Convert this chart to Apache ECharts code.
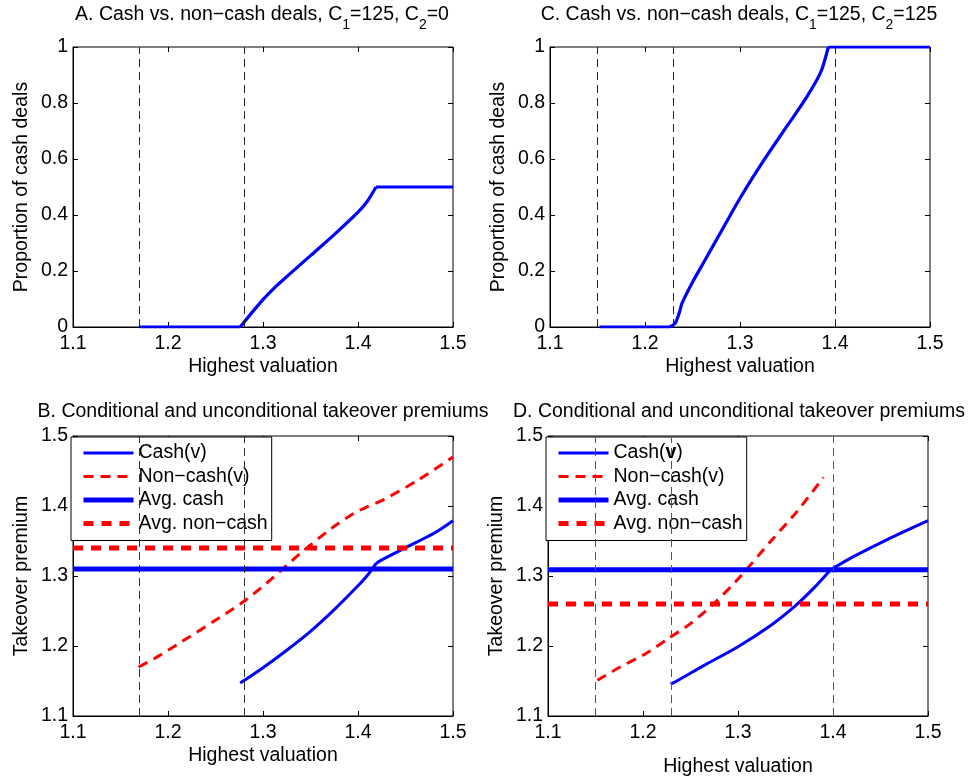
<!DOCTYPE html>
<html>
<head>
<meta charset="utf-8">
<script src="https://cdn.jsdelivr.net/npm/echarts@6/dist/echarts.min.js"></script>
<style>
html,body{margin:0;padding:0;background:#fff;}
#c{width:974px;height:781px;}
</style>
</head>
<body>
<div id="c"></div>
<script>
// ---------------- data ----------------
const xTickValues = [1.1, 1.2, 1.3, 1.4, 1.5];

// Panel A: proportion of cash deals (C1=125, C2=0)
const thresholdsA = [1.17, 1.276];
const propA_x = [1.17, 1.276, 1.285, 1.30, 1.312, 1.325, 1.35, 1.375, 1.40, 1.41, 1.419, 1.5];
const propA_y = [0, 0, 0.038, 0.098, 0.14, 0.18, 0.255, 0.33, 0.41, 0.45, 0.5, 0.5];

// Panel C: proportion of cash deals (C1=125, C2=125)
const thresholdsC = [1.152, 1.226, 1.395];
const propC_x = [1.152, 1.226, 1.232, 1.236, 1.239, 1.25, 1.265, 1.28, 1.30, 1.325, 1.35, 1.37, 1.385, 1.393, 1.5];
const propC_y = [0, 0, 0.015, 0.05, 0.085, 0.16, 0.25, 0.34, 0.46, 0.595, 0.72, 0.82, 0.91, 1.0, 1.0];

// Panel B: takeover premiums (C2=0)
const thresholdsB = [1.17, 1.276];
const cashB_x = [1.276, 1.30, 1.325, 1.35, 1.375, 1.40, 1.41, 1.419, 1.425, 1.445, 1.48, 1.5];
const cashB_y = [1.147, 1.169, 1.194, 1.221, 1.252, 1.286, 1.301, 1.318, 1.323, 1.337, 1.361, 1.379];
const nonCashB_x = [1.169, 1.192, 1.276, 1.304, 1.339, 1.372, 1.395, 1.41, 1.427, 1.462, 1.5];
const nonCashB_y = [1.17, 1.187, 1.26, 1.29, 1.332, 1.368, 1.389, 1.399, 1.409, 1.436, 1.47];
const avgB_x = [1.1, 1.5];
const avgCashB = 1.31;
const avgNonCashB = 1.34;

// Panel D: takeover premiums (C2=125)
const thresholdsD = [1.152, 1.226, 1.397];
const cashD_x = [1.229, 1.233, 1.264, 1.30, 1.334, 1.36, 1.38, 1.3975, 1.422, 1.457, 1.5];
const cashD_y = [1.146, 1.148, 1.172, 1.199, 1.229, 1.257, 1.283, 1.309, 1.328, 1.352, 1.379];
const nonCashD_x = [1.152, 1.176, 1.204, 1.227, 1.25, 1.275, 1.303, 1.334, 1.362, 1.39];
const nonCashD_y = [1.151, 1.17, 1.19, 1.211, 1.232, 1.261, 1.30, 1.349, 1.392, 1.441];
const avgD_x = [1.1, 1.5];
const avgCashD = 1.309;
const avgNonCashD = 1.26;

const legendNames = ['Cash(v)', 'Non\u2212cash(v)', 'Avg. cash', 'Avg. non\u2212cash'];

// ---------------- helpers ----------------
const FONT = '"Liberation Sans", Arial, Helvetica, sans-serif';
const FS = 19.5;
const BLUE = '#0000ff';
const RED = '#ff0000';
const SM = 0.25;
const zip = (xs, ys) => xs.map((x, i) => [x, ys[i]]);
const flat = (xs, v) => xs.map(x => [x, v]);

const grids = [
  {left: 73,  top: 47,  width: 380, height: 280},  // A
  {left: 550, top: 47,  width: 380, height: 280},  // C
  {left: 73,  top: 436, width: 380, height: 280},  // B
  {left: 548, top: 436, width: 380, height: 280}   // D
].map(g => Object.assign({show: true, borderColor: '#000', borderWidth: 1, backgroundColor: 'transparent'}, g));

function xBottom(i, gap) {
  return {
    type: 'value', gridIndex: i, position: 'bottom', min: 1.1, max: 1.5, interval: 0.1,
    name: 'Highest valuation', nameLocation: 'middle', nameGap: gap,
    nameTextStyle: {fontSize: FS, color: '#000', fontFamily: FONT},
    axisLine: {show: true, onZero: false, lineStyle: {color: '#000', width: 1}},
    axisTick: {show: true, inside: true, length: 5, lineStyle: {color: '#000', width: 1}},
    axisLabel: {show: true, fontSize: FS, color: '#000', fontFamily: FONT, margin: 7,
                showMinLabel: true, showMaxLabel: true},
    splitLine: {show: false}
  };
}
function xTop(i) {
  return {
    type: 'value', gridIndex: i, position: 'top', min: 1.1, max: 1.5, interval: 0.1,
    axisLine: {show: false, onZero: false},
    axisTick: {show: true, inside: true, length: 5, lineStyle: {color: '#000', width: 1}},
    axisLabel: {show: false}, splitLine: {show: false}
  };
}
function yLeft(i, min, max, interval, name) {
  return {
    type: 'value', gridIndex: i, position: 'left', min, max, interval,
    name, nameLocation: 'middle', nameGap: 41,
    nameTextStyle: {fontSize: FS, color: '#000', fontFamily: FONT},
    axisLine: {show: true, onZero: false, lineStyle: {color: '#000', width: 1}},
    axisTick: {show: true, inside: true, length: 5, lineStyle: {color: '#000', width: 1}},
    axisLabel: {show: true, fontSize: FS, color: '#000', fontFamily: FONT, margin: 5,
                showMinLabel: true, showMaxLabel: true},
    splitLine: {show: false}
  };
}
function yRight(i, min, max, interval) {
  return {
    type: 'value', gridIndex: i, position: 'right', min, max, interval,
    axisLine: {show: false, onZero: false},
    axisTick: {show: true, inside: true, length: 5, lineStyle: {color: '#000', width: 1}},
    axisLabel: {show: false}, splitLine: {show: false}
  };
}
function vlines(i, values, color) {
  return {
    type: 'line', xAxisIndex: i, yAxisIndex: i, data: [], z: 2, silent: true,
    markLine: {
      silent: true, symbol: ['none', 'none'], label: {show: false},
      lineStyle: {color: color, type: [8, 5], width: 1},
      emphasis: {disabled: true},
      data: values.map(v => ({xAxis: v}))
    }
  };
}
function curve(i, data, color, width, dash, name, smooth) {
  const s = {
    type: 'line', xAxisIndex: i, yAxisIndex: i, data, symbol: 'none', z: 3, silent: true,
    smooth: smooth || false,
    lineStyle: {color, width, type: dash || 'solid', cap: 'butt', join: 'round'}, itemStyle: {color},
    emphasis: {disabled: true}
  };
  if (name) s.name = name;
  return s;
}

const legendItemStyles = [
  {lineStyle: {color: BLUE, width: 3, type: 'solid'}},
  {lineStyle: {color: RED, width: 3, type: [10, 7]}},
  {lineStyle: {color: BLUE, width: 5, type: 'solid'}},
  {lineStyle: {color: RED, width: 5, type: [10, 8]}}
];
function legend(left, top, boldV) {
  return {
    orient: 'vertical', left, top, z: 1, selectedMode: false,
    itemWidth: 50, itemHeight: 14, itemGap: 3.5,
    padding: [6, 4, 7, 10],
    borderColor: '#000', borderWidth: 1, backgroundColor: '#fff',
    textStyle: {fontSize: FS, color: '#000', fontFamily: FONT,
      rich: {n: {fontSize: FS, fontFamily: FONT, color: '#000'},
             b: {fontSize: FS, fontFamily: FONT, color: '#000', fontWeight: 'bold'}}},
    formatter: boldV ? (n => n === legendNames[0] ? '{n|Cash(}{b|v}{n|)}' : n) : null,
    data: legendNames.map((n, k) => Object.assign({name: n, itemStyle: {opacity: 0}}, legendItemStyles[k]))
  };
}

const titleRich = {
  n: {fontSize: FS, fontFamily: FONT, fill: '#000', lineHeight: 22, verticalAlign: 'top'},
  s: {fontSize: 14, fontFamily: FONT, fill: '#000', padding: [13, 0, 0, 0], verticalAlign: 'top'}
};
function titleText(x, y, text) {
  return {type: 'text', x, y, silent: true,
          style: {text, rich: titleRich, align: 'center', verticalAlign: 'top', fill: '#000',
                  fontSize: FS, fontFamily: FONT}};
}

const A = zip(propA_x, propA_y);
const C = zip(propC_x, propC_y);
const cB = zip(cashB_x, cashB_y);
const cD = zip(cashD_x, cashD_y);

const option = {
  animation: false,
  backgroundColor: '#fff',
  grid: grids,
  graphic: [
    titleText(262, 5, '{n|A. Cash vs. non\u2212cash deals, C}{s|1}{n|=125, C}{s|2}{n|=0}'),
    titleText(739, 5, '{n|C. Cash vs. non\u2212cash deals, C}{s|1}{n|=125, C}{s|2}{n|=125}'),
    titleText(263, 402, '{n|B. Conditional and unconditional takeover premiums}'),
    titleText(739, 402, '{n|D. Conditional and unconditional takeover premiums}')
  ],
  legend: [legend(71, 437, false), legend(546, 437, true)],
  xAxis: [xBottom(0, 30), xBottom(1, 30), xBottom(2, 30), xBottom(3, 41),
          xTop(0), xTop(1), xTop(2), xTop(3)],
  yAxis: [yLeft(0, 0, 1, 0.2, 'Proportion of cash deals'),
          yLeft(1, 0, 1, 0.2, 'Proportion of cash deals'),
          yLeft(2, 1.1, 1.5, 0.1, 'Takeover premium'),
          yLeft(3, 1.1, 1.5, 0.1, 'Takeover premium'),
          yRight(0, 0, 1, 0.2), yRight(1, 0, 1, 0.2),
          yRight(2, 1.1, 1.5, 0.1), yRight(3, 1.1, 1.5, 0.1)],
  series: [
    vlines(0, thresholdsA, '#222'),
    curve(0, A.slice(0, 2), BLUE, 3.2),
    curve(0, A.slice(1, 11), BLUE, 3.2, null, null, SM),
    curve(0, A.slice(10), BLUE, 3.2),
    vlines(1, thresholdsC, '#222'),
    curve(1, C.slice(0, 2), BLUE, 3.2),
    curve(1, C.slice(1, 14), BLUE, 3.2, null, null, SM),
    curve(1, C.slice(13), BLUE, 3.2),
    vlines(2, thresholdsB, '#333'),
    curve(2, cB.slice(0, 8), BLUE, 3, null, legendNames[0], SM),
    curve(2, cB.slice(7), BLUE, 3, null, legendNames[0], SM),
    curve(2, zip(nonCashB_x, nonCashB_y), RED, 3, [10, 7], legendNames[1], SM),
    curve(2, flat(avgB_x, avgCashB), BLUE, 5, null, legendNames[2]),
    curve(2, flat(avgB_x, avgNonCashB), RED, 5, [10, 8], legendNames[3]),
    vlines(3, thresholdsD, '#555'),
    curve(3, cD.slice(0, 8), BLUE, 3, null, legendNames[0], SM),
    curve(3, cD.slice(7), BLUE, 3, null, legendNames[0], SM),
    curve(3, zip(nonCashD_x, nonCashD_y), RED, 3, [10, 7], legendNames[1], SM),
    curve(3, flat(avgD_x, avgCashD), BLUE, 5, null, legendNames[2]),
    curve(3, flat(avgD_x, avgNonCashD), RED, 5, [10, 8], legendNames[3])
  ]
};

const chart = echarts.init(document.getElementById('c'), null, {renderer: 'canvas'});
chart.setOption(option);
</script>
</body>
</html>
